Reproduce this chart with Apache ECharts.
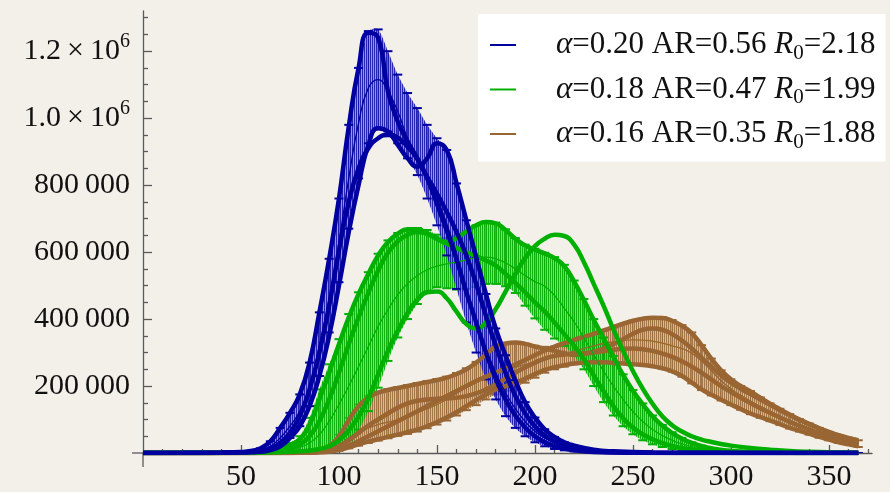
<!DOCTYPE html>
<html>
<head>
<meta charset="utf-8">
<script src="https://cdn.jsdelivr.net/npm/echarts@6/dist/echarts.min.js"></script>
<style>
  html, body { margin: 0; padding: 0; background: #f3f0ea; }
  #chart { width: 890px; height: 492px; }
</style>
</head>
<body>
<div id="chart"></div>
<script>
// ---- tick values ----
const xTickValues = [50, 100, 150, 200, 250, 300, 350];
const yTickValues = [200000, 400000, 600000, 800000, 1000000, 1200000];

// ---- legend entries ----
const legendNames = [
  'α=0.20 AR=0.56 R0=2.18',
  'α=0.18 AR=0.47 R0=1.99',
  'α=0.16 AR=0.35 R0=1.88'
];
const legendRich = [
  '{sp|}{i|α}{t|=0.20 AR=0.56 }{i|R}{sub|0}{t|=2.18}',
  '{sp|}{i|α}{t|=0.18 AR=0.47 }{i|R}{sub|0}{t|=1.99}',
  '{sp|}{i|α}{t|=0.16 AR=0.35 }{i|R}{sub|0}{t|=1.88}'
];

// ---- α = 0.20 (blue) ----
const blueDays = [0, 20, 40, 50, 55, 60, 65, 70, 75, 80, 85, 90, 95, 100, 105, 110, 115, 120, 125, 130, 135, 140, 145, 150, 155, 160, 165, 170, 175, 180, 185, 190, 195, 200, 205, 210, 215, 220, 230, 240, 260, 290, 330, 365];
const blueMean = [0, 200, 1000, 2000, 4000, 8000, 20000, 45000, 80000, 125000, 200000, 320000, 460000, 630000, 820000, 985000, 1090000, 1115000, 1080000, 1020000, 940000, 880000, 810000, 730000, 650000, 565000, 475000, 390000, 310000, 240000, 180000, 132000, 94000, 65000, 45000, 30000, 20000, 13000, 6000, 2500, 800, 200, 0, 0];
const blueLow = [0, 0, 500, 1000, 2000, 4000, 10000, 22000, 45000, 80000, 140000, 230000, 360000, 510000, 670000, 820000, 925000, 970000, 960000, 925000, 880000, 830000, 760000, 680000, 590000, 490000, 390000, 300000, 220000, 160000, 110000, 75000, 50000, 32000, 20000, 12000, 8000, 5000, 2000, 1000, 0, 0, 0, 0];
const blueHigh = [0, 500, 1500, 3000, 6000, 14000, 35000, 75000, 120000, 175000, 270000, 420000, 580000, 760000, 980000, 1150000, 1260000, 1265000, 1200000, 1130000, 1075000, 1030000, 980000, 940000, 905000, 805000, 695000, 585000, 475000, 372000, 292000, 217000, 152000, 106000, 71000, 48000, 32000, 22000, 10000, 5000, 1500, 500, 0, 0];
const blueRunA = [0, 500, 1500, 3000, 6000, 14000, 35000, 75000, 120000, 175000, 270000, 420000, 580000, 760000, 975000, 1150000, 1255000, 1240000, 1080000, 990000, 930000, 880000, 825000, 775000, 720000, 660000, 590000, 505000, 410000, 320000, 240000, 170000, 118000, 80000, 52000, 34000, 22000, 14000, 6000, 2500, 800, 200, 0, 0];
const blueRunB = [0, 200, 800, 2000, 3500, 6000, 14000, 30000, 60000, 110000, 190000, 300000, 440000, 605000, 750000, 850000, 910000, 940000, 950000, 942000, 915000, 878000, 820000, 750000, 670000, 580000, 480000, 390000, 300000, 222000, 160000, 112000, 76000, 50000, 32000, 20000, 13000, 8000, 3000, 1200, 300, 0, 0, 0];
const blueRunC = [0, 100, 500, 1200, 2000, 3500, 9000, 20000, 45000, 80000, 140000, 230000, 350000, 500000, 660000, 800000, 920000, 970000, 960000, 920000, 880000, 855000, 880000, 925000, 905000, 805000, 695000, 585000, 475000, 372000, 292000, 217000, 152000, 106000, 71000, 48000, 32000, 22000, 10000, 5000, 1500, 500, 0, 0];

// ---- α = 0.18 (green) ----
const greenDays = [0, 30, 50, 60, 70, 75, 80, 85, 90, 95, 100, 105, 110, 115, 120, 125, 130, 135, 140, 145, 150, 155, 160, 165, 170, 175, 180, 185, 190, 195, 200, 205, 210, 215, 220, 225, 230, 235, 240, 245, 250, 255, 260, 265, 270, 275, 280, 285, 290, 295, 300, 310, 320, 330, 340, 350, 365];
const greenMean = [0, 100, 800, 2500, 7000, 11000, 17000, 30000, 55000, 95000, 145000, 200000, 258000, 318000, 378000, 428000, 472000, 506000, 530000, 547000, 558000, 565000, 570000, 577000, 583000, 585000, 580000, 568000, 550000, 530000, 512000, 498000, 470000, 432000, 392000, 344000, 294000, 245000, 200000, 160000, 124000, 94000, 70000, 52000, 38000, 27000, 19000, 13000, 9000, 6500, 4500, 2000, 900, 400, 150, 50, 0];
const greenLow = [0, 0, 200, 800, 2000, 3500, 5000, 7000, 10000, 14000, 20000, 38000, 70000, 125000, 195000, 275000, 345000, 400000, 445000, 478000, 495000, 492000, 488000, 490000, 496000, 505000, 505000, 498000, 478000, 440000, 402000, 368000, 342000, 320000, 290000, 250000, 200000, 152000, 112000, 80000, 56000, 38000, 26000, 18000, 12000, 8000, 5000, 3500, 2500, 1800, 1200, 600, 300, 100, 0, 0, 0];
const greenHigh = [0, 300, 1500, 5000, 18000, 30000, 50000, 105000, 190000, 265000, 340000, 415000, 480000, 540000, 595000, 635000, 657000, 668000, 672000, 666000, 652000, 642000, 648000, 662000, 680000, 690000, 688000, 668000, 642000, 622000, 610000, 598000, 585000, 562000, 515000, 460000, 400000, 345000, 290000, 235000, 188000, 148000, 112000, 84000, 62000, 45000, 32000, 22000, 15000, 10000, 7000, 3500, 1500, 800, 300, 100, 0];
const greenRunA = [0, 300, 1500, 4000, 14000, 24000, 42000, 85000, 160000, 240000, 325000, 405000, 475000, 535000, 590000, 630000, 655000, 668000, 668000, 655000, 640000, 625000, 612000, 600000, 588000, 575000, 560000, 535000, 508000, 480000, 450000, 422000, 390000, 355000, 320000, 280000, 232000, 185000, 140000, 104000, 76000, 56000, 41000, 30000, 21000, 15000, 10000, 7000, 5000, 3500, 2500, 1200, 500, 200, 100, 0, 0];
const greenRunB = [0, 100, 800, 2500, 8000, 14000, 25000, 50000, 95000, 160000, 240000, 325000, 405000, 478000, 545000, 598000, 632000, 652000, 660000, 655000, 640000, 630000, 642000, 662000, 680000, 690000, 686000, 666000, 640000, 620000, 607000, 596000, 582000, 558000, 512000, 457000, 398000, 343000, 288000, 233000, 186000, 146000, 110000, 82000, 60000, 43000, 30000, 21000, 14000, 9500, 6500, 3000, 1400, 600, 200, 100, 0];
const greenRunC = [0, 0, 300, 1000, 2500, 3500, 5000, 7500, 12000, 20000, 38000, 68000, 108000, 165000, 235000, 305000, 365000, 418000, 458000, 480000, 482000, 462000, 422000, 385000, 372000, 390000, 430000, 482000, 535000, 582000, 618000, 640000, 652000, 648000, 622000, 570000, 505000, 440000, 370000, 305000, 245000, 192000, 147000, 110000, 83000, 64000, 50000, 40000, 33000, 27000, 22000, 15000, 10000, 6000, 3500, 2000, 1000];

// ---- α = 0.16 (brown) ----
const brownDays = [0, 40, 70, 80, 85, 90, 95, 100, 105, 110, 115, 120, 125, 130, 135, 140, 145, 150, 155, 160, 165, 170, 175, 180, 185, 190, 195, 200, 205, 210, 215, 220, 225, 230, 235, 240, 245, 250, 255, 260, 265, 270, 275, 280, 285, 290, 295, 300, 305, 310, 315, 320, 325, 330, 335, 340, 345, 350, 355, 360, 365];
const brownMean = [0, 0, 300, 1000, 2500, 5000, 10000, 25000, 45000, 62000, 75000, 85000, 92000, 100000, 112000, 122000, 132000, 145000, 160000, 178000, 196000, 212000, 226000, 238000, 248000, 256000, 264000, 272000, 280000, 288000, 296000, 304000, 312000, 320000, 327000, 332000, 336000, 338000, 337000, 334000, 328000, 320000, 312000, 298000, 275000, 246000, 216000, 192000, 172000, 155000, 138000, 122000, 108000, 95000, 83000, 72000, 62000, 52000, 44000, 36000, 30000];
const brownLow = [0, 0, 100, 400, 800, 1500, 3000, 7000, 14000, 22000, 30000, 37000, 44000, 51000, 57000, 64000, 74000, 85000, 97000, 112000, 128000, 143000, 160000, 175000, 186000, 196000, 210000, 225000, 240000, 250000, 258000, 265000, 269000, 270000, 270000, 268000, 266000, 264000, 262000, 258000, 252000, 243000, 228000, 208000, 188000, 172000, 157000, 143000, 129000, 116000, 105000, 95000, 84000, 73000, 64000, 55000, 46000, 38000, 30000, 24000, 18000];
const brownHigh = [0, 0, 500, 2000, 4000, 9000, 22000, 55000, 105000, 145000, 170000, 183000, 191000, 197000, 203000, 209000, 215000, 221000, 228000, 239000, 253000, 272000, 296000, 320000, 328000, 331000, 327000, 320000, 317000, 318000, 325000, 335000, 345000, 355000, 365000, 375000, 385000, 395000, 402000, 406000, 405000, 397000, 382000, 360000, 322000, 282000, 247000, 220000, 200000, 185000, 166000, 148000, 132000, 116000, 101000, 88000, 75000, 63000, 53000, 45000, 38000];
const brownRunA = [0, 0, 500, 2000, 4000, 9000, 20000, 50000, 98000, 140000, 166000, 180000, 188000, 194000, 200000, 206000, 212000, 218000, 225000, 236000, 250000, 270000, 294000, 318000, 327000, 330000, 326000, 318000, 312000, 305000, 298000, 294000, 296000, 302000, 312000, 325000, 340000, 356000, 368000, 372000, 368000, 355000, 336000, 312000, 285000, 258000, 232000, 210000, 192000, 176000, 160000, 144000, 128000, 113000, 99000, 86000, 74000, 63000, 53000, 45000, 38000];
const brownRunB = [0, 0, 200, 800, 1500, 3000, 6000, 12000, 22000, 35000, 50000, 65000, 80000, 95000, 110000, 125000, 140000, 155000, 170000, 185000, 200000, 215000, 228000, 240000, 252000, 264000, 278000, 292000, 306000, 318000, 328000, 338000, 347000, 356000, 366000, 376000, 386000, 395000, 401000, 404000, 403000, 395000, 380000, 358000, 322000, 282000, 247000, 220000, 200000, 184000, 165000, 147000, 131000, 115000, 100000, 87000, 74000, 62000, 52000, 44000, 37000];
const brownRunC = [0, 0, 100, 500, 1000, 2000, 4000, 9000, 17000, 26000, 34000, 41000, 48000, 55000, 62000, 70000, 80000, 92000, 106000, 122000, 140000, 158000, 175000, 190000, 200000, 210000, 222000, 236000, 248000, 256000, 262000, 267000, 270000, 271000, 271000, 269000, 267000, 265000, 263000, 259000, 253000, 244000, 230000, 210000, 190000, 174000, 159000, 145000, 131000, 118000, 107000, 97000, 86000, 75000, 66000, 57000, 48000, 40000, 32000, 26000, 20000];
const brownRunD = [0, 0, 200, 800, 1800, 4000, 9000, 20000, 38000, 60000, 82000, 100000, 118000, 135000, 148000, 156000, 160000, 162000, 163000, 165000, 170000, 178000, 190000, 205000, 222000, 240000, 256000, 270000, 282000, 290000, 294000, 296000, 298000, 300000, 304000, 308000, 311000, 312000, 310000, 305000, 297000, 287000, 274000, 258000, 240000, 220000, 200000, 182000, 165000, 149000, 134000, 120000, 106000, 93000, 81000, 70000, 60000, 51000, 43000, 36000, 30000];

const FONT = 'Liberation Serif';

// vertical hatching used to fill the error band
function stripePattern(stripe, base) {
  const c = document.createElement('canvas');
  c.width = 2; c.height = 4;
  const g = c.getContext('2d');
  g.fillStyle = base; g.fillRect(0, 0, 2, 4);
  g.fillStyle = stripe; g.fillRect(0, 0, 1, 4);
  return { image: c, repeat: 'repeat' };
}

function pairs(days, vals) { return days.map((d, i) => [d, vals[i]]); }

// band between the lower and upper error limits, drawn once as a closed shape
function bandRenderer(days, low, high, fill) {
  return function (params, api) {
    if (params.dataIndex !== 0) return null;
    const upper = days.map((d, i) => api.coord([d, high[i]]));
    const lower = days.map((d, i) => api.coord([d, low[i]])).reverse();
    return {
      type: 'polygon',
      shape: { points: upper.concat(lower), smooth: 0.25 },
      style: { fill: fill, stroke: null }
    };
  };
}

// error bar: thin vertical stroke with short horizontal caps
function errorBarRenderer(capColor, barColor) {
  return function (params, api) {
    const x = api.value(0);
    const lo = api.coord([x, api.value(1)]);
    const hi = api.coord([x, api.value(2)]);
    const w = 4.5;
    return {
      type: 'group',
      children: [
        { type: 'line', shape: { x1: lo[0], y1: lo[1], x2: hi[0], y2: hi[1] }, style: { stroke: barColor, lineWidth: 1 } },
        { type: 'line', shape: { x1: hi[0] - w, y1: hi[1], x2: hi[0] + w, y2: hi[1] }, style: { stroke: capColor, lineWidth: 2 } },
        { type: 'line', shape: { x1: lo[0] - w, y1: lo[1], x2: lo[0] + w, y2: lo[1] }, style: { stroke: capColor, lineWidth: 2 } }
      ]
    };
  };
}

function groupSeries(name, color, stripe, base, days, mean, low, high, runs) {
  const lineBase = { type: 'line', symbol: 'none', smooth: 0.5, silent: true };
  const list = [];
  list.push({
    type: 'custom', silent: true, clip: true,
    renderItem: bandRenderer(days, low, high, stripePattern(stripe, base)),
    encode: { x: 0, y: [1, 2] },
    data: days.map((d, i) => [d, low[i], high[i]])
  });
  list.push({
    type: 'custom', silent: true, clip: true,
    renderItem: errorBarRenderer(color, stripe),
    encode: { x: 0, y: [1, 2] },
    data: days.map((d, i) => [d, low[i], high[i]])
  });
  runs.forEach(r => list.push(Object.assign({}, lineBase, {
    data: pairs(days, r), lineStyle: { color: color, width: 4.5 }
  })));
  list.push(Object.assign({}, lineBase, {
    name: name, data: pairs(days, mean),
    itemStyle: { color: color }, lineStyle: { color: color, width: 1.3 }
  }));
  return list;
}

const BLUE = '#0000a0', GREEN = '#00b000', BROWN = '#996633';

const series = [].concat(
  groupSeries(legendNames[2], BROWN, 'rgba(153,102,51,0.8)', 'rgba(190,150,110,0.6)',
    brownDays, brownMean, brownLow, brownHigh, [brownRunA, brownRunB, brownRunC, brownRunD]),
  groupSeries(legendNames[1], GREEN, 'rgba(0,170,0,0.85)', 'rgba(80,195,80,0.65)',
    greenDays, greenMean, greenLow, greenHigh, [greenRunA, greenRunB, greenRunC]),
  groupSeries(legendNames[0], BLUE, 'rgba(20,20,170,0.85)', 'rgba(100,100,205,0.65)',
    blueDays, blueMean, blueLow, blueHigh, [blueRunA, blueRunB, blueRunC])
);

function yLabel(v) {
  if (v >= 1000000) return '{m|' + (v / 1000000).toFixed(1) + '\u2009×\u200910}{s|6}';
  const th = Math.floor(v / 1000), rest = String(v % 1000).padStart(3, '0');
  return '{m|' + th + '\u2009' + rest + '}';
}

const chart = echarts.init(document.getElementById('chart'));
chart.setOption({
  animation: false,
  backgroundColor: '#f3f0ea',
  grid: { left: 143, right: 18, top: 11, bottom: 39 },
  xAxis: {
    type: 'value', min: 0, max: 372, interval: 50,
    axisLine: { onZero: true, lineStyle: { color: '#5a5a5a', width: 1.3 } },
    axisTick: { inside: true, length: 8, customValues: xTickValues, lineStyle: { color: '#5a5a5a', width: 1.3 } },
    minorTick: { show: true, splitNumber: 5, length: 4, lineStyle: { color: '#5a5a5a', width: 1.3 } },
    splitLine: { show: false },
    axisLabel: {
      customValues: xTickValues, margin: 9, color: '#111',
      fontFamily: FONT, fontSize: 30
    }
  },
  yAxis: {
    type: 'value', min: 0, max: 1320000, interval: 200000,
    axisLine: { show: true, onZero: true, lineStyle: { color: '#5a5a5a', width: 1.3 } },
    axisTick: { show: true, inside: true, length: 9, customValues: yTickValues, lineStyle: { color: '#5a5a5a', width: 1.3 } },
    minorTick: { show: true, splitNumber: 4, length: 5, lineStyle: { color: '#5a5a5a', width: 1.3 } },
    splitLine: { show: false },
    axisLabel: {
      customValues: yTickValues, margin: 13, formatter: yLabel,
      rich: {
        m: { fontFamily: FONT, fontSize: 30, color: '#111' },
        s: { fontFamily: FONT, fontSize: 20, color: '#111', padding: [0, 0, 18, 0] }
      }
    }
  },
  legend: {
    data: legendNames, orient: 'vertical', left: 478, top: 14,
    backgroundColor: '#ffffff', padding: [14, 10, 9, 12], itemGap: 9,
    icon: 'rect', itemWidth: 26, itemHeight: 2,
    formatter: name => legendRich[legendNames.indexOf(name)],
    textStyle: {
      fontFamily: FONT, fontSize: 31, color: '#111', lineHeight: 34,
      rich: {
        sp: { width: 35 },
        t: { fontFamily: FONT, fontSize: 31, color: '#111' },
        i: { fontFamily: FONT, fontSize: 31, color: '#111', fontStyle: 'italic' },
        sub: { fontFamily: FONT, fontSize: 21, color: '#111', padding: [16, 0, 0, 0] }
      }
    }
  },
  series: series
});

// short axis overhangs past the origin
const o = chart.convertToPixel({ gridIndex: 0 }, [0, 0]);
chart.setOption({
  graphic: [
    { type: 'line', silent: true, shape: { x1: o[0] - 11, y1: o[1], x2: o[0], y2: o[1] }, style: { stroke: '#5a5a5a', lineWidth: 1.3 } },
    { type: 'line', silent: true, shape: { x1: o[0], y1: o[1], x2: o[0], y2: o[1] + 14 }, style: { stroke: '#5a5a5a', lineWidth: 1.3 } }
  ]
});
</script>
</body>
</html>
